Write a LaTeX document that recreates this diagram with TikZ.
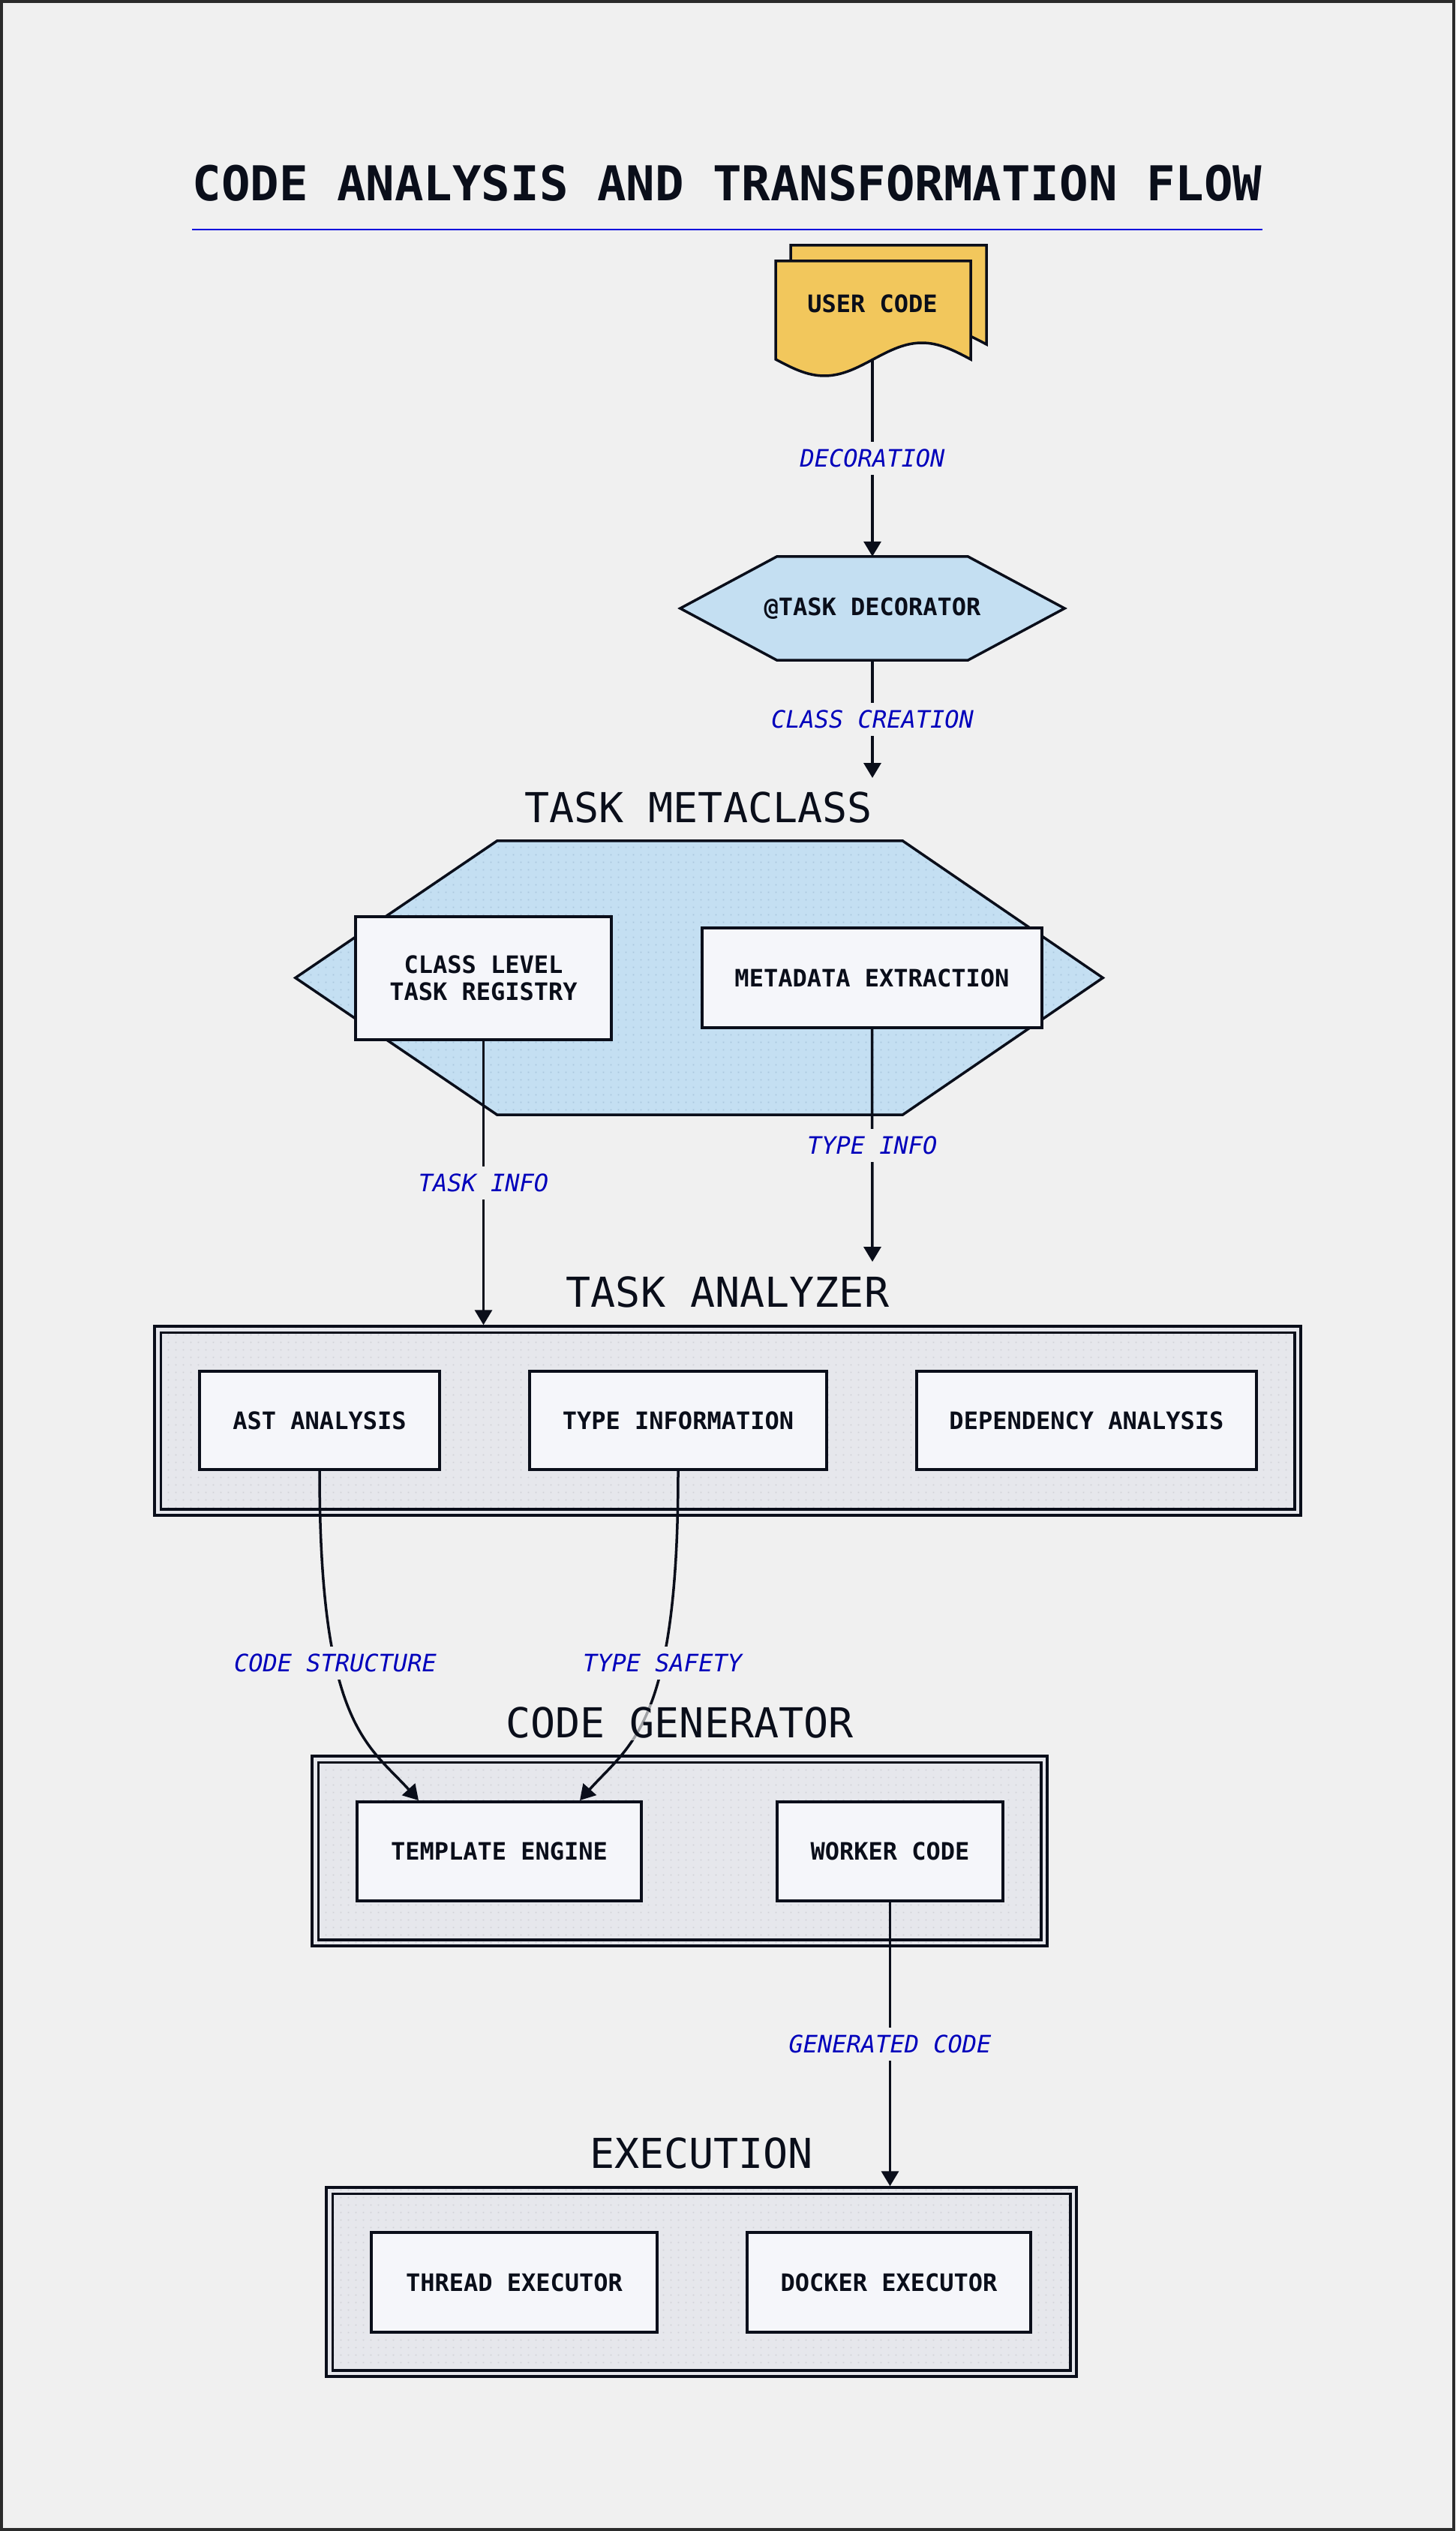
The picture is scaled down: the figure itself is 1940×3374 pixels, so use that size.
\documentclass[tikz,border=0pt]{standalone}
\usepackage{fontspec}
\usetikzlibrary{arrows.meta,patterns.meta,calc,backgrounds}
\newfontfamily\dmono{DejaVu Sans Mono}

\definecolor{pagebg}{HTML}{F0F0F0}
\definecolor{framecol}{HTML}{2B2B2B}
\definecolor{ink}{HTML}{0A0E1A}
\definecolor{hexfill}{HTML}{C4DFF2}
\definecolor{hexdot}{HTML}{A9C6DD}
\definecolor{grpfill}{HTML}{E6E7EC}
\definecolor{grpdot}{HTML}{D0D1D7}
\definecolor{boxfill}{HTML}{F5F6FA}
\definecolor{docfill}{HTML}{F2C75C}
\definecolor{lblblue}{HTML}{0000BB}
\definecolor{rulecol}{HTML}{0000DD}

% small square dots on a 10pt grid
\tikzdeclarepattern{
  name=dotgrid,
  type=uncolored,
  bounding box={(0pt,0pt) and (10pt,10pt)},
  tile size={(10pt,10pt)},
  code={\fill (4pt,4pt) rectangle (6pt,6pt);}
}

\begin{document}
\begin{tikzpicture}[
  x=1pt, y=-1pt,
  boxtxt/.style={text=ink, font=\dmono\bfseries\fontsize{32}{36}\selectfont, align=center, inner sep=0},
  box/.style={boxtxt, draw=ink, line width=4, fill=boxfill},
  grp/.style={draw=ink, line width=3.5, preaction={fill=grpfill}, pattern=dotgrid, pattern color=grpdot, inner sep=0},
  grpinner/.style={draw=ink, line width=3.5},
  grptitle/.style={text=ink, font=\dmono\fontsize{55}{60}\selectfont, anchor=base, inner sep=3},
  lbl/.style={fill=pagebg, text=lblblue, font=\dmono\itshape\fontsize{32}{36}\selectfont, inner xsep=4, inner ysep=10},
  arr/.style={draw=ink, line width=3.5, -{Triangle[length=20pt,width=23pt]}},
  shapeph/.style={inner sep=0, draw=none}
]
% page
\begin{scope}[on background layer]
  \fill[pagebg] (0,0) rectangle (1940,3374);
  \draw[framecol, line width=4] (2,2) rectangle (1938,3372);
\end{scope}
\useasboundingbox (0,0) rectangle (1940,3374);

% heading
\node[text=ink, font=\dmono\bfseries\fontsize{64}{70}\selectfont, anchor=base, inner sep=0] (title) at (969.5,268) {CODE ANALYSIS AND TRANSFORMATION FLOW};
\draw[rulecol, line width=2] ($(title.base west)+(0,38)$) -- ($(title.base east)+(0,38)$);

% stacked document
\draw[fill=docfill, draw=ink, line width=3.5] (1054,327) -- (1315,327) -- (1315,459)
  -- plot[domain=1315:1054, samples=60] (\x, {459+22*sin((\x-1054)/261*360)}) -- cycle;
\draw[fill=docfill, draw=ink, line width=3.5] (1034,348) -- (1294,348) -- (1294,479)
  -- plot[domain=1294:1034, samples=60] (\x, {479+22*sin((\x-1034)/260*360)}) -- cycle;
\node[boxtxt] (user) at (1163,405) {USER CODE};
\coordinate (userbot) at (1163,480);

% decorator hexagon
\node[boxtxt, minimum width=512, minimum height=138] (dec) at (1163,811) {@TASK DECORATOR};
\begin{scope}[on background layer]
  \draw[fill=hexfill, draw=ink, line width=3.5] (dec.west) -- ([xshift=129]dec.north west) -- ([xshift=-129]dec.north east)
    -- (dec.east) -- ([xshift=-129]dec.south east) -- ([xshift=129]dec.south west) -- cycle;
\end{scope}

% metaclass hexagon
\node[shapeph, minimum width=1076, minimum height=365] (mcls) at (932,1303.5) {};
\begin{scope}[on background layer]
  \draw[preaction={fill=hexfill}, pattern=dotgrid, pattern color=hexdot, draw=ink, line width=3.5]
    (mcls.west) -- ([xshift=269]mcls.north west) -- ([xshift=-267]mcls.north east)
    -- (mcls.east) -- ([xshift=-267]mcls.south east) -- ([xshift=269]mcls.south west) -- cycle;
\end{scope}
\node[box, minimum width=341, minimum height=164] (reg) at (644.5,1304) {CLASS LEVEL\\TASK REGISTRY};
\node[box, minimum width=453, minimum height=133] (meta) at (1162.5,1303.5) {METADATA EXTRACTION};

% analyzer group
\node[grp, minimum width=1528, minimum height=252] (ana) at (970,1894) {};
\draw[grpinner] ($(ana.north west)+(10,10)$) rectangle ($(ana.south east)+(-10,-10)$);
\node[box, minimum width=320, minimum height=131] (ast) at (426,1893.5) {AST ANALYSIS};
\node[box, minimum width=396, minimum height=131] (typ) at (904,1893.5) {TYPE INFORMATION};
\node[box, minimum width=453, minimum height=131] (dep) at (1448.5,1893.5) {DEPENDENCY ANALYSIS};

% generator group
\node[grp, minimum width=980, minimum height=253] (gen) at (906,2467.5) {};
\draw[grpinner] ($(gen.north west)+(10,10)$) rectangle ($(gen.south east)+(-10,-10)$);
\node[box, minimum width=379, minimum height=132] (tmpl) at (665.5,2468) {TEMPLATE ENGINE};
\node[box, minimum width=301, minimum height=132] (work) at (1186.5,2468) {WORKER CODE};

% execution group
\node[grp, minimum width=1000, minimum height=252] (exe) at (935,3042) {};
\draw[grpinner] ($(exe.north west)+(10,10)$) rectangle ($(exe.south east)+(-10,-10)$);
\node[box, minimum width=381, minimum height=133] (thr) at (685.5,3042.5) {THREAD EXECUTOR};
\node[box, minimum width=378, minimum height=133] (dock) at (1185,3042.5) {DOCKER EXECUTOR};

% connectors
\coordinate (clsend) at (1163,1037);
\coordinate (metaend) at (1163,1682);
\draw[arr] (userbot) -- node[lbl] {DECORATION} (dec.north);
\draw[arr] (dec.south) -- node[lbl] {CLASS CREATION} (clsend);
\draw[arr] (reg.south) -- node[lbl] {TASK INFO} (reg.south |- ana.north);
\draw[arr] (meta.south) -- node[lbl] {TYPE INFO} (metaend);
\draw[arr] (ast.south) .. controls (426,2300) and (490,2325) .. node[lbl, pos=0.35] {CODE STRUCTURE} ([xshift=-107.5]tmpl.north);
\draw[arr] (typ.south) .. controls (904,2300) and (840,2325) .. node[lbl, pos=0.35] {TYPE SAFETY} ([xshift=107.5]tmpl.north);
\draw[arr] (work.south) -- node[lbl] {GENERATED CODE} (work.south |- exe.north);

% group titles
\node[grptitle] (mclsT) at (931,1096) {TASK METACLASS};
\node[grptitle] (anaT) at (970,1742) {TASK ANALYZER};
\node[grptitle, fill=pagebg, fill opacity=0.65, text opacity=1] (genT) at (906,2316) {CODE GENERATOR};
\node[grptitle] (exeT) at (935,2890) {EXECUTION};
\end{tikzpicture}
\end{document}
